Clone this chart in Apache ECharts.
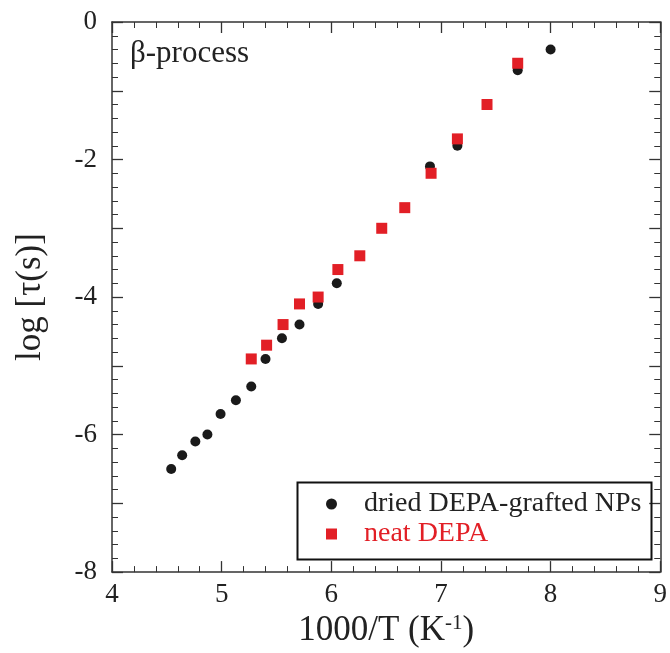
<!DOCTYPE html>
<html>
<head>
<meta charset="utf-8">
<script src="https://cdn.jsdelivr.net/npm/echarts@6/dist/echarts.min.js"></script>
<style>html,body{margin:0;padding:0;background:#fff}#c{width:670px;height:653px}</style>
</head>
<body>
<div id="c"></div>
<script>
// Data
const driedX = [4.54, 4.64, 4.76, 4.87, 4.99, 5.13, 5.27, 5.40, 5.55, 5.71, 5.88, 6.05, 6.90, 7.15, 7.70, 8.00];
const driedY = [-6.5, -6.3, -6.1, -6.0, -5.7, -5.5, -5.3, -4.9, -4.6, -4.4, -4.1, -3.8, -2.1, -1.8, -0.7, -0.4];
const neatX = [5.27, 5.41, 5.56, 5.71, 5.88, 6.06, 6.26, 6.46, 6.67, 6.91, 7.15, 7.42, 7.70];
const neatY = [-4.9, -4.7, -4.4, -4.1, -4.0, -3.6, -3.4, -3.0, -2.7, -2.2, -1.7, -1.2, -0.6];
const seriesNames = ['dried DEPA-grafted NPs', 'neat DEPA'];
const xTicks = [4, 5, 6, 7, 8, 9];
const yTicks = [0, -2, -4, -6, -8];

const FONT = '"Liberation Serif", "Times New Roman", serif';
const AXC = '#333';
const RED = '#e21f26';
const BLK = '#1a1a1a';

const zip = (a, b) => a.map((v, i) => [v, b[i]]);

const axisCommon = {
  axisLine: { show: true, onZero: false, lineStyle: { color: AXC, width: 1.5 } },
  splitLine: { show: false },
  axisTick: { show: true, inside: true, length: 11, lineStyle: { color: AXC, width: 1.3 } },
  minorTick: { show: true, length: 6, lineStyle: { color: AXC, width: 1 } },
};

const chart = echarts.init(document.getElementById('c'), null, { renderer: 'canvas' });
chart.setOption({
  backgroundColor: '#fff',
  animation: false,
  grid: { left: 112, right: 8, top: 22, bottom: 80 },
  xAxis: [
    Object.assign({}, axisCommon, {
      type: 'value', min: xTicks[0], max: xTicks[xTicks.length - 1], interval: 1, position: 'bottom',
      minorTick: Object.assign({}, axisCommon.minorTick, { splitNumber: 5 }),
      axisLabel: { color: '#222', fontFamily: FONT, fontSize: 27, margin: 9 },
      name: '1000/T (K{sup|-1})', nameLocation: 'middle', nameGap: 38,
      nameTextStyle: {
        color: '#222', fontFamily: FONT, fontSize: 35,
        rich: { sup: { fontFamily: FONT, fontSize: 21, color: '#222', padding: [0, 0, 14, 0] } }
      }
    }),
    Object.assign({}, axisCommon, {
      type: 'value', min: xTicks[0], max: xTicks[xTicks.length - 1], interval: 1, position: 'top',
      minorTick: Object.assign({}, axisCommon.minorTick, { splitNumber: 5 }),
      axisLabel: { show: false }
    })
  ],
  yAxis: [
    Object.assign({}, axisCommon, {
      type: 'value', min: yTicks[yTicks.length - 1], max: yTicks[0], interval: 1, position: 'left',
      minorTick: Object.assign({}, axisCommon.minorTick, { splitNumber: 5 }),
      axisLabel: {
        color: '#222', fontFamily: FONT, fontSize: 27, margin: 15,
        formatter: v => (yTicks.indexOf(v) >= 0 ? String(v) : '')
      },
      name: 'log [τ(s)]', nameLocation: 'middle', nameGap: 64, nameRotate: 90,
      nameTextStyle: { color: '#222', fontFamily: FONT, fontSize: 35 }
    }),
    Object.assign({}, axisCommon, {
      type: 'value', min: yTicks[yTicks.length - 1], max: yTicks[0], interval: 1, position: 'right',
      minorTick: Object.assign({}, axisCommon.minorTick, { splitNumber: 5 }),
      axisLabel: { show: false }
    })
  ],
  legend: {
    orient: 'vertical', left: 326, top: 490, padding: 0, itemGap: 2, itemWidth: 11, itemHeight: 11,
    textStyle: { fontFamily: FONT, fontSize: 28, color: '#222', padding: [0, 0, 0, 22] },
    data: [
      { name: seriesNames[0], icon: 'circle', itemStyle: { color: BLK, opacity: 1 }, textStyle: { color: '#222' } },
      { name: seriesNames[1], icon: 'rect', itemStyle: { color: RED, opacity: 1 }, textStyle: { color: RED } }
    ]
  },
  graphic: [
    { type: 'rect', left: 295, top: 480, shape: { width: 354, height: 77 },
      style: { fill: 'none', stroke: '#111', lineWidth: 2 }, z: 100 },
    { type: 'text', left: 130, top: 38,
      style: { text: 'β-process', font: '31px ' + FONT, fill: '#222' } }
  ],
  series: [
    { name: seriesNames[0], type: 'scatter', symbol: 'circle', symbolSize: 10,
      itemStyle: { color: BLK, opacity: 1 }, data: zip(driedX, driedY), z: 2 },
    { name: seriesNames[1], type: 'scatter', symbol: 'rect', symbolSize: 11,
      itemStyle: { color: RED, opacity: 1 }, data: zip(neatX, neatY), z: 3 }
  ]
});
</script>
</body>
</html>
